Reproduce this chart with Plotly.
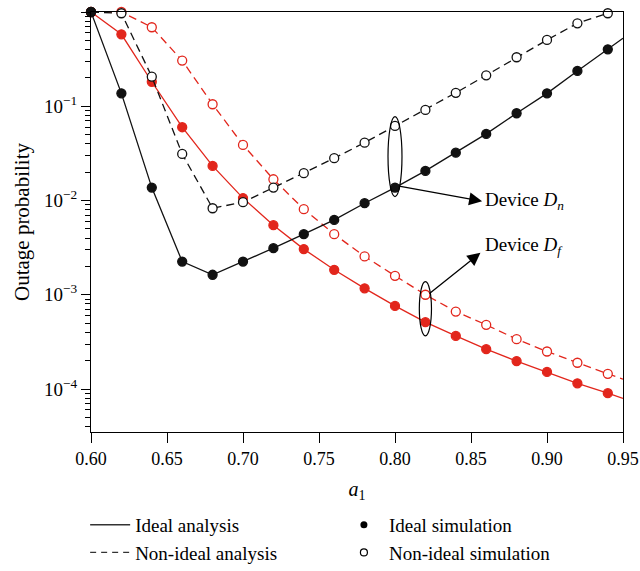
import numpy as np
import plotly.graph_objects as go

a1 = [0.60, 0.62, 0.64, 0.66, 0.68, 0.70, 0.72, 0.74, 0.76, 0.78, 0.80, 0.82, 0.84, 0.86, 0.88, 0.90, 0.92, 0.94]

# Device Dn (black)
dn_ideal = [1.0, 0.137, 0.0137, 0.00225, 0.00163, 0.00225, 0.00312, 0.00439, 0.00623, 0.00936,
            0.0137, 0.0206, 0.0322, 0.0509, 0.0843, 0.137, 0.237, 0.402]
dn_ideal_end = 0.526
dn_nonideal = [1.0, 0.97, 0.206, 0.0312, 0.00828, 0.0096, 0.0137, 0.0195, 0.0281, 0.0411,
               0.0618, 0.0914, 0.139, 0.213, 0.331, 0.505, 0.759, 0.97]
dn_nonideal_end = 1.1

# Device Df (red)
df_ideal = [1.0, 0.58, 0.182, 0.0599, 0.0233, 0.0106, 0.00547, 0.00305, 0.00184, 0.00117,
            0.000762, 0.000512, 0.000366, 0.000265, 0.000198, 0.000152, 0.000115, 0.0000904]
df_ideal_end = 0.0000793
df_nonideal = [1.0, 1.0, 0.689, 0.305, 0.105, 0.0389, 0.0168, 0.00809, 0.00439, 0.00255,
               0.00159, 0.00100, 0.000664, 0.000480, 0.000338, 0.000250, 0.000190, 0.000145]
df_nonideal_end = 0.000127

ytick_vals = [1e0, 1e-1, 1e-2, 1e-3, 1e-4]
ytick_text = ["10<sup>0</sup>", "10<sup>\u22121</sup>", "10<sup>\u22122</sup>", "10<sup>\u22123</sup>", "10<sup>\u22124</sup>"]
xtick_vals = [0.60, 0.65, 0.70, 0.75, 0.80, 0.85, 0.90, 0.95]
xtick_text = ["0.60", "0.65", "0.70", "0.75", "0.80", "0.85", "0.90", "0.95"]

RED = "#e2261c"
BLACK = "#111111"
FONT = "Liberation Serif"
DASH = "8px,5px"

fig = go.Figure()

def add_series(x, y, y_end, color, dash, filled):
    fig.add_trace(go.Scatter(x=x + [0.95], y=y + [y_end], mode="lines",
                             line=dict(color=color, width=1.3, dash=dash),
                             showlegend=False, hoverinfo="skip"))
    fig.add_trace(go.Scatter(x=x, y=y, mode="markers",
                             marker=dict(symbol="circle", size=9,
                                         color=color if filled else "white",
                                         line=dict(color=color, width=1.3)),
                             showlegend=False, cliponaxis=False))

add_series(a1, df_nonideal, df_nonideal_end, RED, DASH, False)
add_series(a1, df_ideal, df_ideal_end, RED, "solid", True)
add_series(a1, dn_nonideal, dn_nonideal_end, BLACK, DASH, False)
add_series(a1, dn_ideal, dn_ideal_end, BLACK, "solid", True)

# legend-only entries
fig.add_trace(go.Scatter(x=[None], y=[None], mode="lines", name="Ideal analysis",
                         line=dict(color="#333", width=1.3), legend="legend"))
fig.add_trace(go.Scatter(x=[None], y=[None], mode="lines", name="Non-ideal analysis",
                         line=dict(color="#333", width=1.3, dash="6px,5px"), legend="legend"))
fig.add_trace(go.Scatter(x=[None], y=[None], mode="markers", name="Ideal simulation",
                         marker=dict(symbol="circle", size=7, color="black"), legend="legend2"))
fig.add_trace(go.Scatter(x=[None], y=[None], mode="markers", name="Non-ideal simulation",
                         marker=dict(symbol="circle", size=7, color="white",
                                     line=dict(color="black", width=1.2)), legend="legend2"))

# ellipses around the highlighted point pairs (shape y given as data values)
i80 = a1.index(0.80)
i82 = a1.index(0.82)
fig.add_shape(type="circle", xref="x", yref="y",
              x0=0.80 - 0.0046, x1=0.80 + 0.0046,
              y0=dn_ideal[i80] * 10 ** -0.095, y1=dn_nonideal[i80] * 10 ** 0.10,
              line=dict(color="black", width=1.2))
fig.add_shape(type="circle", xref="x", yref="y",
              x0=0.82 - 0.004, x1=0.82 + 0.004,
              y0=df_ideal[i82] * 10 ** -0.145, y1=df_nonideal[i82] * 10 ** 0.14,
              line=dict(color="black", width=1.2))

# arrows
fig.add_annotation(x=0.8573, y=np.log10(dn_ideal[i80]) - 0.145, xref="x", yref="y",
                   ax=0.8017, ay=np.log10(dn_ideal[i80]) + 0.02, axref="x", ayref="y",
                   text="", showarrow=True, arrowhead=2, arrowsize=2.0, arrowwidth=1.3,
                   arrowcolor="black")
fig.add_annotation(x=0.8562, y=np.log10(df_nonideal[i82]) + 0.445, xref="x", yref="y",
                   ax=0.8217, ay=np.log10(df_nonideal[i82]) - 0.0, axref="x", ayref="y",
                   text="", showarrow=True, arrowhead=2, arrowsize=2.0, arrowwidth=1.3,
                   arrowcolor="black")
fig.add_annotation(x=0.858, y=np.log10(dn_ideal[i80]) - 0.145, xref="x", yref="y",
                   text="Device <i>D</i><sub><i>n</i></sub>", showarrow=False,
                   xanchor="left", yanchor="middle", font=dict(family=FONT, size=19, color="black"))
fig.add_annotation(x=0.858, y=np.log10(df_nonideal[i82]) + 0.52, xref="x", yref="y",
                   text="Device <i>D</i><sub><i>f</i></sub>", showarrow=False,
                   xanchor="left", yanchor="middle", font=dict(family=FONT, size=19, color="black"))

leg_common = dict(orientation="v", yanchor="top", xanchor="left", yref="paper", xref="paper",
                  font=dict(family=FONT, size=19, color="black"), itemwidth=40,
                  bgcolor="rgba(0,0,0,0)", tracegroupgap=0)

fig.update_layout(
    width=640, height=571,
    margin=dict(l=91, r=17, t=12, b=139, autoexpand=False),
    plot_bgcolor="white", paper_bgcolor="white",
    font=dict(family=FONT, size=18, color="black"),
    xaxis=dict(range=[0.60, 0.95], tickvals=xtick_vals, ticktext=xtick_text, tickangle=0,
               ticks="outside", ticklen=10, tickwidth=1.3, tickcolor="black",
               showline=True, linecolor="black", linewidth=1.3, mirror=True,
               showgrid=False, zeroline=False,
               title=dict(text="<i>a</i><sub>1</sub>", font=dict(size=20), standoff=14)),
    yaxis=dict(type="log", range=[-4.456, 0.0], tickvals=ytick_vals, ticktext=ytick_text,
               ticks="outside", ticklen=9, tickwidth=1.3, tickcolor="black",
               tickfont=dict(size=19),
               showline=True, linecolor="black", linewidth=1.3, mirror=True,
               showgrid=False, zeroline=False,
               minor=dict(ticks="outside", ticklen=5, tickwidth=1.1, tickcolor="black",
                          tickvals=[m * 10.0 ** e for e in range(-5, 0) for m in range(2, 10)],
                          showgrid=False),
               title=dict(text="Outage probability", font=dict(size=21), standoff=8)),
    legend=dict(x=-0.011, y=-0.176, **leg_common),
    legend2=dict(x=0.466, y=-0.176, **leg_common),
)

fig.write_html("out.html")
